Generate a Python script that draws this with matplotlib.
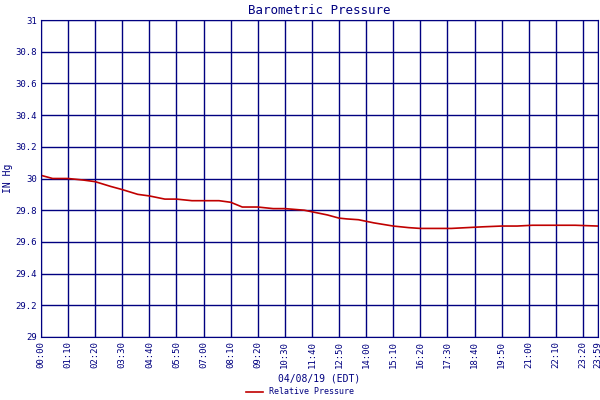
import matplotlib
matplotlib.use("Agg")
import matplotlib.pyplot as plt

# minutes since midnight and pressure (in Hg)
minutes = [0, 15, 30, 70, 110, 140, 180, 210, 250, 280, 320, 350, 390, 420,
           460, 490, 520, 560, 600, 630, 680, 700, 740, 770, 790, 820, 860,
           910, 950, 980, 1020, 1060, 1100, 1140, 1190, 1230, 1270, 1330, 1380, 1439]
pressure = [30.02, 30.01, 30.00, 30.00, 29.99, 29.98, 29.95, 29.93, 29.90, 29.89,
            29.87, 29.87, 29.86, 29.86, 29.86, 29.85, 29.82, 29.82, 29.81, 29.81,
            29.80, 29.79, 29.77, 29.75, 29.745, 29.74, 29.72, 29.70, 29.69, 29.685,
            29.685, 29.685, 29.69, 29.695, 29.70, 29.70, 29.705, 29.705, 29.705, 29.70]
tick_minutes = list(range(0, 1439, 70)) + [1439]
tick_labels = [f"{m // 60:02d}:{m % 60:02d}" for m in tick_minutes]
y_ticks = [29, 29.2, 29.4, 29.6, 29.8, 30, 30.2, 30.4, 30.6, 30.8, 31]
y_labels = ["29", "29.2", "29.4", "29.6", "29.8", "30", "30.2", "30.4", "30.6", "30.8", "31"]

navy = "#000080"
plt.rcParams["font.family"] = "DejaVu Sans Mono"

fig = plt.figure(figsize=(6, 4), dpi=100)
ax = fig.add_axes([41 / 600, 63 / 400, 557 / 600, 317 / 400])
ax.plot(minutes, pressure, color="#c00000", lw=1.2, label="Relative Pressure")
ax.set_xlim(0, 1439)
ax.set_ylim(29, 31)
ax.set_xticks(tick_minutes)
ax.set_xticklabels(tick_labels, fontsize=6.5, color=navy)
ax.tick_params(axis="x", labelrotation=90)
ax.set_yticks(y_ticks)
ax.set_yticklabels(y_labels, fontsize=6.5, color=navy)
ax.tick_params(length=0, pad=3)
ax.grid(True, color=navy, lw=1)
for s in ax.spines.values():
    s.set_color(navy)
ax.set_title("Barometric Pressure", color=navy, fontsize=9, pad=4)
ax.set_xlabel("04/08/19 (EDT)", color=navy, fontsize=7, labelpad=4)
ax.set_ylabel("IN Hg", color=navy, fontsize=7, labelpad=2)
fig.legend(loc="lower center", bbox_to_anchor=(0.5, -0.01), frameon=False,
           fontsize=6, labelcolor=navy, handlelength=2)
fig.savefig("out.png", dpi=100, facecolor="white")
